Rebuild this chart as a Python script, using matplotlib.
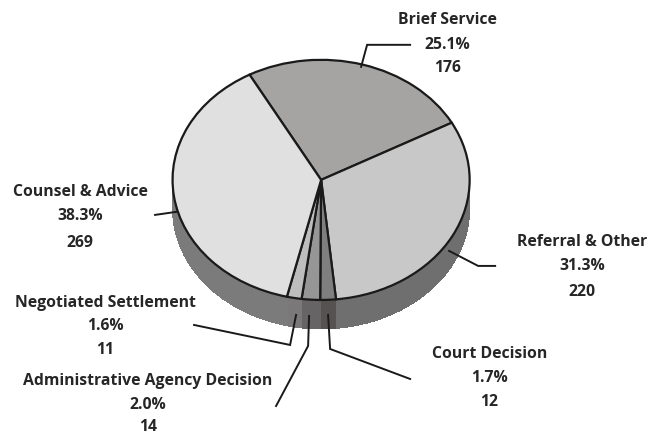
import matplotlib
matplotlib.use("Agg")
import matplotlib.pyplot as plt

categories = ["Brief Service", "Referral & Other", "Court Decision",
              "Administrative Agency Decision", "Negotiated Settlement", "Counsel & Advice"]
percents = [25.1, 31.3, 1.7, 2.0, 1.6, 38.3]
counts = [176, 220, 12, 14, 11, 269]
top_colors = ["#a5a4a3", "#c8c8c8", "#7f7f7f", "#969696", "#bdbdbd", "#e0e0e0"]
side_colors = ["#555555", "#6f6f6f", "#575252", "#666464", "#7a7878", "#7b7b7b"]
label_rows = [(447, (20, 45, 68)), (582, (242, 266, 292)), (489, (354, 378, 402)),
              (148, (381, 405, 427)), (105, (303, 326, 350)), (80, (192, 216, 243))]
leaders = [
    [(410, 45), (367, 45), (361, 67)],
    [(449, 251), (478, 266), (495, 266)],
    [(328, 315), (330, 349), (410, 379)],
    [(309, 316), (308, 346), (276, 406)],
    [(296, 315), (290, 345), (194, 325)],
    [(155, 215), (176, 212)],
]

W, H, DPI = 652, 435, 100
CX, CY, RX, RY, DEPTH = 321, 180, 148.5, 120, 29

fig = plt.figure(figsize=((W + 0.2) / DPI, (H + 0.2) / DPI), dpi=DPI, facecolor="white")
ax = fig.add_axes([(CX - RX) / W, 1 - (CY + RY + DEPTH) / H, 2 * RX / W, (2 * RY + DEPTH) / H])
ax.axis("off")

for j in range(DEPTH, 0, -1):
    ax.pie(percents, colors=side_colors, startangle=118.8, counterclock=False,
           center=(0, -j / RY), radius=1, normalize=True,
           wedgeprops=dict(linewidth=0, antialiased=False))
ax.pie(percents, colors=top_colors, startangle=118.8, counterclock=False,
       center=(0, 0), radius=1, normalize=True,
       wedgeprops=dict(linewidth=1.6, edgecolor="#1a1a1a"))
ax.set_aspect("auto")
ax.set_xlim(-1, 1)
ax.set_ylim(-1 - DEPTH / RY, 1)

ov = fig.add_axes([0, 0, 1, 1], facecolor="none")
ov.set_xlim(0, W)
ov.set_ylim(H, 0)
ov.axis("off")
for pts in leaders:
    ov.plot([p[0] for p in pts], [p[1] for p in pts], color="#1a1a1a", lw=1.4,
            solid_joinstyle="miter")
for name, pct, n, (x, ys) in zip(categories, percents, counts, label_rows):
    for s, y in zip([name, f"{pct:.1f}%", str(n)], ys):
        ov.text(x, y, s, ha="center", va="center", fontsize=11.3,
                fontweight="bold", family="Open Sans", color="#262626")

fig.savefig("out.png", dpi=DPI)
